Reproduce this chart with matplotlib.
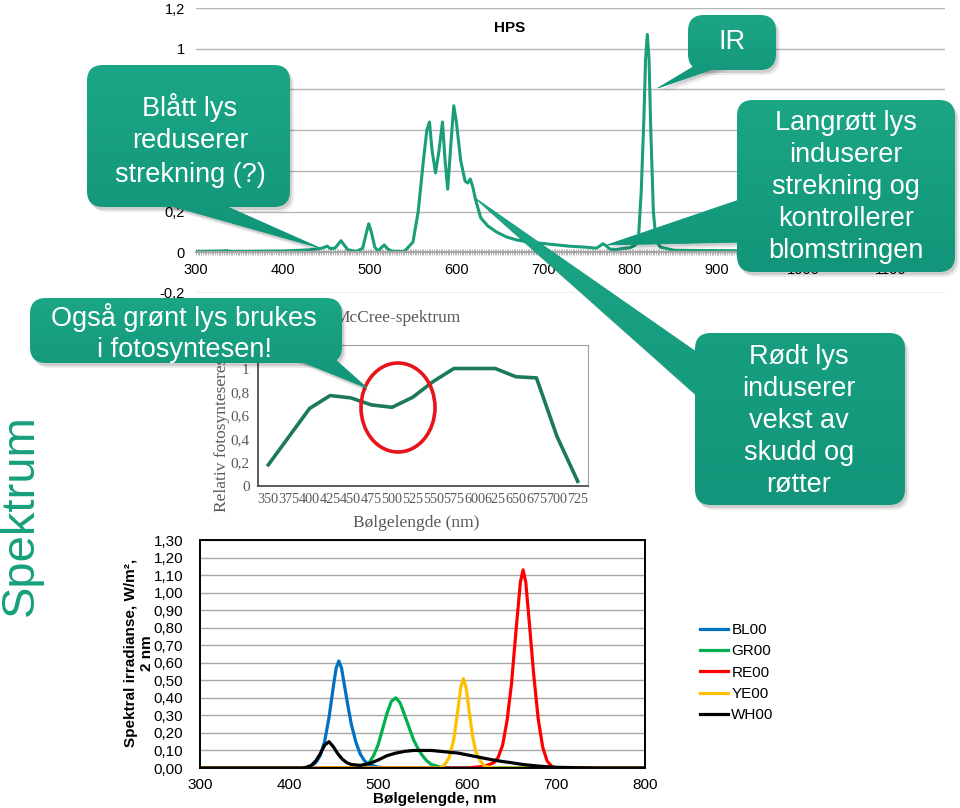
import matplotlib
matplotlib.use("Agg")
import matplotlib.pyplot as plt
import numpy as np
from matplotlib.patches import FancyBboxPatch, Polygon, Ellipse
from matplotlib.colors import LinearSegmentedColormap
from matplotlib.ticker import MultipleLocator, FuncFormatter

W, H = 960, 808
plt.rcParams['font.family'] = ['Liberation Sans', 'DejaVu Sans']

# --- HPS spectrum (top chart) ---
hps_nm = [300, 330, 335, 340, 400, 430, 445, 448, 451, 455, 460, 464, 467, 470, 475,
          485, 492, 496, 499, 502, 506, 510, 514, 517, 520, 525, 540, 550, 556, 562,
          566, 569, 572, 576, 580, 584, 587, 590, 594, 597, 600, 605, 610, 613, 616,
          619, 622, 628, 636, 646, 658, 670, 685, 707, 730, 749, 761, 765, 769, 773,
          777, 784, 791, 800, 806, 810, 813, 816, 818, 820, 822, 824, 827, 830, 835,
          851, 900, 1000, 1100]
hps_val = [0.004, 0.006, 0.008, 0.004, 0.006, 0.012, 0.02, 0.025, 0.03, 0.018, 0.02, 0.04, 0.057, 0.04, 0.012,
           0.004, 0.02, 0.09, 0.14, 0.10, 0.025, 0.006, 0.025, 0.036, 0.02, 0.005, 0.004, 0.05, 0.20, 0.45,
           0.60, 0.64, 0.50, 0.39, 0.50, 0.64, 0.45, 0.31, 0.55, 0.72, 0.64, 0.45, 0.35, 0.34, 0.36,
           0.32, 0.26, 0.17, 0.13, 0.10, 0.075, 0.06, 0.05, 0.04, 0.03, 0.025, 0.02, 0.03, 0.042, 0.03,
           0.015, 0.013, 0.018, 0.022, 0.035, 0.08, 0.30, 0.65, 0.95, 1.07, 0.95, 0.60, 0.20, 0.06, 0.025,
           0.01, 0.008, 0.006, 0.006]
hps_yticks = [-0.2, 0, 0.2, 0.4, 0.6, 0.8, 1.0, 1.2]
hps_ylabels = ["-0,2", "0", "0,2", "", "", "", "1", "1,2"]  # 0,4-0,8 sit under the callout
hps_xticks = [300, 400, 500, 600, 700, 800, 900, 1000, 1100]

# --- McCree curve (middle chart) ---
mccree_nm = [350, 375, 400, 425, 450, 475, 500, 525, 550, 575, 600, 625, 650, 675, 700, 725]
mccree_val = [0.18, 0.42, 0.66, 0.77, 0.75, 0.69, 0.67, 0.755, 0.89, 1.0, 1.0, 1.0, 0.93, 0.92, 0.42, 0.04]
mccree_yticks = [0, 0.2, 0.4, 0.6, 0.8, 1.0]

# --- LED spectra (bottom chart) ---
bl_nm = [300, 420, 425, 430, 435, 440, 445, 450, 453, 456, 459, 462, 466, 470, 475, 480, 485, 490, 500, 510, 800]
bl_val = [0, 0, 0.01, 0.03, 0.07, 0.15, 0.29, 0.47, 0.57, 0.61, 0.57, 0.48, 0.36, 0.25, 0.15, 0.08, 0.04, 0.02, 0.005, 0, 0]
gr_nm = [300, 480, 485, 490, 495, 500, 505, 510, 515, 520, 525, 530, 535, 540, 545, 550, 555, 560, 570, 580, 800]
gr_val = [0, 0, 0.01, 0.03, 0.07, 0.13, 0.22, 0.31, 0.38, 0.40, 0.37, 0.30, 0.23, 0.16, 0.11, 0.07, 0.04, 0.02, 0.005, 0, 0]
re_nm = [300, 600, 620, 630, 635, 640, 645, 650, 655, 660, 663, 666, 670, 675, 680, 685, 690, 695, 700, 800]
re_val = [0, 0, 0.01, 0.03, 0.06, 0.13, 0.27, 0.48, 0.78, 1.06, 1.13, 1.06, 0.83, 0.53, 0.28, 0.12, 0.04, 0.01, 0, 0]
ye_nm = [300, 570, 575, 580, 585, 590, 593, 596, 599, 602, 606, 610, 615, 620, 630, 800]
ye_val = [0, 0, 0.02, 0.06, 0.16, 0.34, 0.46, 0.51, 0.46, 0.34, 0.19, 0.09, 0.04, 0.01, 0, 0]
wh_nm = [300, 415, 420, 425, 430, 435, 440, 445, 450, 455, 460, 465, 470, 480, 490, 500, 510, 520,
         530, 540, 550, 560, 570, 580, 590, 600, 610, 620, 630, 640, 650, 660, 670, 680, 690, 700,
         720, 750, 800]
wh_val = [0, 0, 0.005, 0.015, 0.04, 0.08, 0.13, 0.15, 0.12, 0.08, 0.05, 0.03, 0.02, 0.015, 0.025, 0.045, 0.07, 0.085,
          0.095, 0.10, 0.10, 0.10, 0.095, 0.09, 0.085, 0.075, 0.065, 0.055, 0.045, 0.037, 0.03, 0.022, 0.016, 0.011, 0.007, 0.004,
          0.002, 0, 0]
led_names = ["BL00", "GR00", "RE00", "YE00", "WH00"]
led_colors = ["#0070C0", "#00B050", "#FF0000", "#FFC000", "#000000"]
led_yticks = [0, 0.1, 0.2, 0.3, 0.4, 0.5, 0.6, 0.7, 0.8, 0.9, 1.0, 1.1, 1.2, 1.3]
led_xticks = [300, 400, 500, 600, 700, 800]

teal = "#17A07D"


def rect(x0, y0, x1, y1):
    return [x0 / W, 1 - y1 / H, (x1 - x0) / W, (y1 - y0) / H]


def comma(v, p=None):
    if abs(v - round(v)) < 1e-9:
        return str(int(round(v)))
    return f"{v:.1f}".replace('.', ',')


fig = plt.figure(figsize=(9.6, 8.08), dpi=100)

# ---------- HPS chart ----------
ax1 = fig.add_axes(rect(196, 8, 945, 293))
ax1.plot(hps_nm, hps_val, color="#1A9E7A", lw=2.2, solid_joinstyle='round')
ax1.set_xlim(300, 1163)
ax1.set_ylim(-0.2, 1.2)
ax1.set_yticks(hps_yticks)
ax1.set_yticklabels(hps_ylabels)
ax1.set_xticks(hps_xticks)
ax1.xaxis.set_minor_locator(MultipleLocator(2))
ax1.grid(axis='y', color='#B5B5B5', lw=1)
for s in ['left', 'top', 'right']:
    ax1.spines[s].set_visible(False)
ax1.spines['bottom'].set_position(('data', 0))
ax1.spines['bottom'].set_color('#A6A6A6')
ax1.spines['bottom'].set_linewidth(1.5)
ax1.tick_params(axis='x', which='both', direction='inout', color='#A6A6A6', length=5, width=0.6,
                labelsize=10.5, pad=5)
ax1.tick_params(axis='y', length=0, labelsize=10.5, pad=8)
fig.text(510 / W, 1 - 28 / H, "HPS", ha='center', va='center', fontsize=11, fontweight='bold')

# ---------- McCree chart ----------
ax2 = fig.add_axes(rect(258, 345, 588, 486))
ax2.plot(range(len(mccree_nm)), mccree_val, color="#1D7A57", lw=2.6)
ax2.set_xlim(-0.5, len(mccree_nm) - 0.5)
ax2.set_ylim(0, 1.2)
ax2.set_xticks(range(len(mccree_nm)))
ax2.set_xticklabels([str(v) for v in mccree_nm])
ax2.set_yticks(mccree_yticks)
ax2.yaxis.set_major_formatter(FuncFormatter(comma))
serif = ['Liberation Serif', 'DejaVu Serif']
for lab in ax2.get_xticklabels() + ax2.get_yticklabels():
    lab.set_family(serif)
    lab.set_color('#595959')
ax2.tick_params(axis='x', length=0, labelsize=10.2, pad=5)
ax2.tick_params(axis='y', length=0, labelsize=11, pad=6)
for s in ['top', 'right']:
    ax2.spines[s].set_color('#A0A0A0')
    ax2.spines[s].set_linewidth(0.8)
for s in ['left', 'bottom']:
    ax2.spines[s].set_color('#404040')
    ax2.spines[s].set_linewidth(1.2)
fig.text(398 / W, 1 - 318 / H, "McCree-spektrum", ha='center', va='center', fontsize=12.5,
         family=serif, color='#595959')
fig.text(416 / W, 1 - 523 / H, "Bølgelengde (nm)", ha='center', va='center', fontsize=12.5,
         family=serif, color='#595959')
fig.text(222 / W, 1 - 512 / H, "Relativ fotosynteserespons", ha='center', va='bottom', rotation=90,
         fontsize=12.5, family=serif, color='#595959')

# ---------- LED chart ----------
ax3 = fig.add_axes(rect(200, 540, 645, 768))
led_series = [(bl_nm, bl_val), (gr_nm, gr_val), (re_nm, re_val), (ye_nm, ye_val), (wh_nm, wh_val)]
for (xs, ys), name, col in zip(led_series, led_names, led_colors):
    ax3.plot(xs, ys, color=col, lw=2.3, label=name)
ax3.set_xlim(300, 800)
ax3.set_ylim(0, 1.3)
ax3.set_yticks(led_yticks)
ax3.yaxis.set_major_formatter(FuncFormatter(lambda v, p: f"{v:.2f}".replace('.', ',')))
ax3.set_xticks(led_xticks)
ax3.grid(axis='y', color='#A6A6A6', lw=1)
for s in ax3.spines.values():
    s.set_color('black')
    s.set_linewidth(1.4)
ax3.tick_params(axis='both', length=0, labelsize=11)
ax3.tick_params(axis='y', pad=12)
ax3.tick_params(axis='x', pad=7)
ax3.legend(loc='upper left', bbox_to_anchor=(700 / W, 1 - 623 / H), bbox_transform=fig.transFigure,
           frameon=False, fontsize=11, handlelength=1.85, handletextpad=0.2, labelspacing=0.48,
           borderpad=0, borderaxespad=0)
fig.text(435 / W, 1 - 799 / H, "Bølgelengde, nm", ha='center', va='center', fontsize=11, fontweight='bold')
fig.text(139 / W, 1 - 653 / H, "Spektral irradianse, W/m²,\n2 nm", ha='center', va='center',
         rotation=90, fontsize=11, fontweight='bold', linespacing=1.1)

fig.text(21 / W, 1 - 515 / H, "Spektrum", ha='center', va='center', rotation=90, fontsize=34,
         color=teal)

# ---------- overlay: callouts and ellipse (above everything) ----------
ov = fig.add_axes([0, 0, 1, 1])
ov.set_zorder(10)
ov.patch.set_alpha(0)
ov.set_xlim(0, W)
ov.set_ylim(H, 0)
ov.axis('off')

ov.add_patch(Ellipse((398, 407.5), 74, 89, fill=False, ec='#E8141B', lw=2.6, zorder=1))

grad_cmap = LinearSegmentedColormap.from_list('g', ['#1BA685', '#12957A'])
grad = np.linspace(0, 1, 64).reshape(-1, 1)


def callout(box, pointer, text, cx, cy, z, ls=1.3):
    x0, y0, x1, y1 = box
    xs = [x0, x1] + [p[0] for p in pointer]
    ys = [y0, y1] + [p[1] for p in pointer]
    ext = (min(xs), max(xs), max(ys), min(ys))
    style = "round,pad=0,rounding_size=16"
    for dx, dy, a in [(2, 3, 0.12), (4, 5, 0.08)]:
        ov.add_patch(FancyBboxPatch((x0 + dx, y0 + dy), x1 - x0, y1 - y0, boxstyle=style,
                                    fc='black', ec='none', alpha=a, zorder=z))
        ov.add_patch(Polygon([(px + dx, py + dy) for px, py in pointer], closed=True,
                             fc='black', ec='none', alpha=a, zorder=z))
    pbox = FancyBboxPatch((x0, y0), x1 - x0, y1 - y0, boxstyle=style, fc='none', ec='none')
    ptri = Polygon(pointer, closed=True, fc='none', ec='none')
    ov.add_patch(pbox)
    ov.add_patch(ptri)
    ov.add_patch(Polygon(pointer, closed=True, fc='#17A07F', ec='#17A07F', lw=0.6, zorder=z + 0.5))
    for p in (pbox, ptri):
        im = ov.imshow(grad, extent=ext, cmap=grad_cmap, aspect='auto', origin='upper',
                       interpolation='bilinear', zorder=z + 1)
        im.set_clip_path(p)
    ov.text(cx, cy, text, ha='center', va='center', color='white', fontsize=19.5,
            linespacing=ls, zorder=z + 2)


callout((87, 65, 290, 207), [(150, 200), (212, 200), (320, 248)],
        "Blått lys\nreduserer\nstrekning (?)", 190, 140, z=2, ls=1.35)
callout((688, 15, 776, 70), [(698, 64), (728, 64), (658, 88)], "IR", 732, 42, z=5)
callout((737, 100, 955, 272), [(745, 198), (745, 242), (607, 245)],
        "Langrøtt lys\ninduserer\nstrekning og\nkontrollerer\nblomstringen", 846, 187, z=8)
callout((30, 298, 342, 363), [(285, 355), (330, 355), (367, 388)],
        "Også grønt lys brukes\ni fotosyntesen!", 184, 333, z=11, ls=1.25)
callout((695, 333, 905, 505), [(702, 356), (702, 400), (475, 198)],
        "Rødt lys\ninduserer\nvekst av\nskudd og\nrøtter", 799, 421, z=14)

ov.set_xlim(0, W)
ov.set_ylim(H, 0)

fig.savefig("out.png", dpi=100)
